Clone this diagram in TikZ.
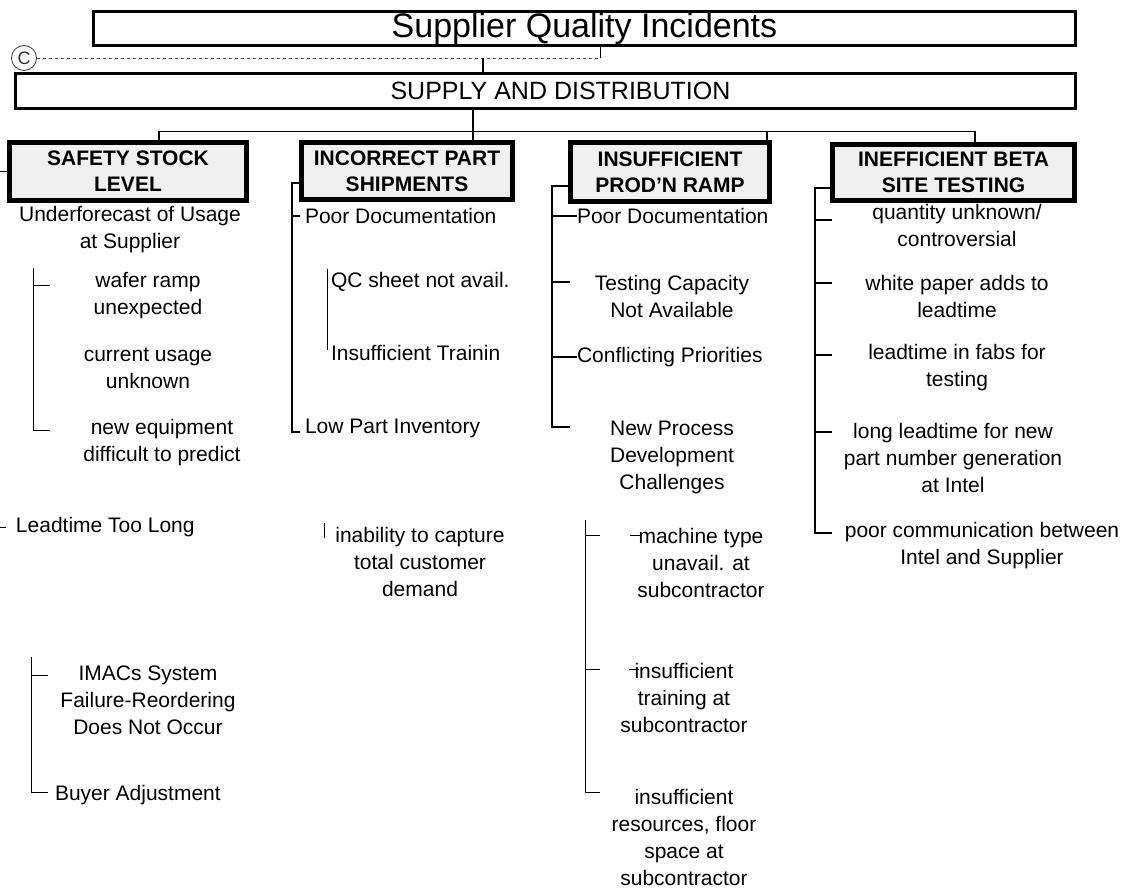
\documentclass[tikz,border=0pt]{standalone}
\usepackage{fontspec}
\setmainfont{Liberation Sans}
\begin{document}
\begin{tikzpicture}[x=1pt,y=-1pt,
  every node/.style={inner sep=0pt, outer sep=0pt},
  txt/.style={font=\fontsize{21}{27}\selectfont, align=center},
  ltxt/.style={font=\fontsize{21}{27}\selectfont, align=left, anchor=west},
  headbox/.style={draw, line width=4.5pt, fill=black!6,
    font=\fontsize{21}{26}\selectfont\bfseries, align=center},
  bigbox/.style={draw, line width=2.8pt, fill=white},
  conn/.style={line width=1.2pt},
  hair/.style={line width=0.8pt}]
\useasboundingbox (0,0) rectangle (1125,893);

% ---- top of the tree ----
\node[bigbox, minimum width=982pt, minimum height=34pt,
      font=\fontsize{34}{34}\selectfont] (title) at (584.5,28.5) {Supplier Quality Incidents};
\node[bigbox, minimum width=1060pt, minimum height=35pt] (sd) at (545.5,91) {};
\node[font=\fontsize{25}{25}\selectfont] (sdlabel) at ([xshift=15pt]sd.center) {SUPPLY AND DISTRIBUTION};

% off-page connector C
\node[circle, draw, hair, black!80, minimum size=25pt,
      font=\fontsize{18}{18}\selectfont] (cc) at (24,58) {C};
\coordinate (dj) at (600,58);
\coordinate (sj) at (483,58);
\draw[hair, dashed, black!70] (cc.east) -- (dj);
\draw[hair] (title.south -| dj) -- (dj);
\draw[conn] (sj) -- (sj |- sd.north);

% ---- category boxes ----
\node[headbox, minimum width=237pt, minimum height=58pt] (safety) at (128,171.5) {SAFETY STOCK\\LEVEL};
\node[headbox, minimum width=211pt, minimum height=57pt] (incorrect) at (407,171) {INCORRECT PART\\SHIPMENTS};
\node[headbox, minimum width=199pt, minimum height=59pt] (insufficient) at (670,172) {INSUFFICIENT\\PROD'N RAMP};
\node[headbox, minimum width=242pt, minimum height=56pt] (beta) at (953.5,172.5) {INEFFICIENT BETA\\SITE TESTING};

% bus from SUPPLY AND DISTRIBUTION to the four categories
\coordinate (t1) at (159,131);
\coordinate (t2) at (473,131);
\coordinate (t3) at (767,131);
\coordinate (t4) at (975,131);
\draw[conn] (t2 |- sd.south) -- (t2);
\draw[hair] (t1) -- (t4);
\foreach \t/\n in {t1/safety, t2/incorrect, t3/insufficient, t4/beta}
  \draw[conn] (\t) -- (\t |- \n.north);

% ---- column 1 : safety stock level ----
\coordinate (edge) at (0,0);
\draw[conn] (safety.west) -- (edge |- safety.west);

\node[txt] (uf) at (130,229.5) {Underforecast of Usage\\at Supplier};
\node[txt] (wr) at (148,296) {wafer ramp\\unexpected};
\node[txt] (cu) at (148,368) {current usage\\unknown};
\node[txt] (ne) at (162,443) {new equipment\\difficult to predict};
\node[ltxt] (lt) at (16,527) {Leadtime Too Long};
\node[txt] (im) at (148,700) {IMACs System\\Failure-Reordering\\Does Not Occur};
\node[ltxt] (ba) at (55,795) {Buyer Adjustment};

\coordinate (a1) at (33,268);
\coordinate (a2) at (33,285);
\coordinate (a3) at (33,430);
\draw[hair] (a1) -- (a3) -- ++(17,0);
\draw[hair] (a2) -- ++(17,0);

\draw[hair] (edge |- lt.west) -- ([xshift=-10pt]lt.west);

\coordinate (b1) at (31,657);
\coordinate (b2) at (31,675);
\coordinate (b3) at (31,792);
\draw[hair] (b1) -- (b3) -- ++(17,0);
\draw[hair] (b2) -- ++(17,0);

% ---- column 2 : incorrect part shipments ----
\node[ltxt] (pd2) at (305,216) {Poor Documentation};
\node[ltxt] (qc) at (331,282) {QC sheet not avail.};
\node[ltxt] (tr2) at (331,353) {Insufficient Trainin};
\node[ltxt] (lp) at (305,428) {Low Part Inventory};
\node[txt] (ic) at (420,562) {inability to capture\\total customer\\demand};

\coordinate (c1) at (292,183);
\coordinate (c2) at (292,216);
\coordinate (c3) at (292,432);
\draw[conn] (incorrect.west |- c1) -- (c1) -- (c3) -- ++(8,0);
\draw[conn] (c2) -- ++(8,0);
\draw[hair] (327,269) coordinate (d1) -- (327,350) coordinate (d2);
\draw[hair] (324,523) coordinate (d3) -- (324,538) coordinate (d4);

% ---- column 3 : insufficient prod'n ramp ----
\node[ltxt] (pd3) at (577,216) {Poor Documentation};
\node[txt] (tc) at (672,296) {Testing Capacity\\Not Available};
\node[ltxt] (cp) at (577,357) {Conflicting Priorities};
\node[txt] (np) at (672,457) {New Process\\Development\\Challenges};
\node[txt] (mt) at (701,563) {machine type\\unavail. at\\subcontractor};
\node[txt] (it3) at (684,698) {insufficient\\training at\\subcontractor};
\node[txt] (ir) at (684,837.5) {insufficient\\resources, floor\\space at\\subcontractor};

\coordinate (e1) at (552,186);
\coordinate (e2) at (552,216);
\coordinate (e3) at (552,282);
\coordinate (e4) at (552,357);
\coordinate (e5) at (552,427);
\draw[conn] (insufficient.west |- e1) -- (e1) -- (e5) -- ++(18,0);
\draw[conn] (e2) -- (pd3.west |- e2);
\draw[conn] (e3) -- ++(18,0);
\draw[conn] (e4) -- (cp.west |- e4);

\coordinate (f1) at (585,520);
\coordinate (f2) at (585,535);
\coordinate (f3) at (585,669);
\coordinate (f4) at (585,792);
\draw[hair] (f1) -- (f4) -- ++(15,0);
\draw[hair] (f2) -- ++(15,0);
\draw[hair] (f3) -- ++(15,0);
\draw[hair] (630,535) coordinate (g1) -- (641,535) coordinate (g2);
\draw[hair] (629,669) coordinate (g3) -- (639,669) coordinate (g4);

% ---- column 4 : inefficient beta site testing ----
\node[txt] (q) at (957,225) {quantity unknown/\\controversial};
\node[txt] (wp) at (957,296) {white paper adds to\\leadtime};
\node[txt] (lf) at (957,368) {leadtime in fabs for\\testing};
\node[txt] (ll) at (953,458) {long leadtime for new\\part number generation\\at Intel};
\node[txt] (pc) at (982,545.5) {poor communication between\\Intel and Supplier};

\coordinate (h1) at (815,188);
\coordinate (h2) at (815,220);
\coordinate (h3) at (815,283);
\coordinate (h4) at (815,355);
\coordinate (h5) at (815,432);
\coordinate (h6) at (815,533);
\draw[conn] (beta.west |- h1) -- (h1) -- (h6) -- ++(17,0);
\foreach \p in {h2,h3,h4,h5}
  \draw[conn] (\p) -- ++(17,0);
\end{tikzpicture}
\end{document}
